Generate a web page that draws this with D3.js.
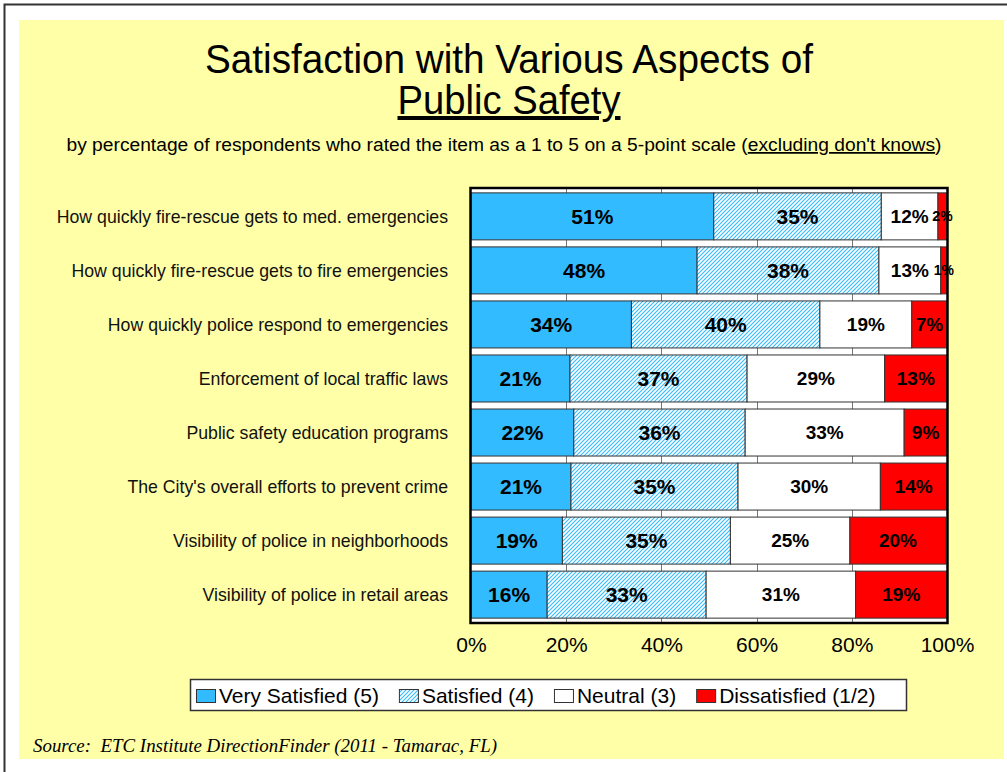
<!DOCTYPE html>
<html>
<head>
<meta charset="utf-8">
<script src="https://cdn.jsdelivr.net/npm/d3@7"></script>
<style>
body { margin: 0; background: #fff; }
text { font-family: "Liberation Sans", Arial, sans-serif; }
</style>
</head>
<body>
<script>
var categories = [
	"How quickly fire-rescue gets to med. emergencies",
	"How quickly fire-rescue gets to fire emergencies",
	"How quickly police respond to emergencies",
	"Enforcement of local traffic laws",
	"Public safety education programs",
	"The City's overall efforts to prevent crime",
	"Visibility of police in neighborhoods",
	"Visibility of police in retail areas"
];
var verySatisfied = [51.0, 47.5, 33.7, 20.8, 21.6, 21.0, 19.2, 16.0];
var satisfied     = [35.2, 38.2, 39.6, 37.2, 36.0, 35.1, 35.3, 33.4];
var neutral       = [11.9, 13.0, 19.3, 28.9, 33.4, 29.9, 25.1, 31.4];
var dissatisfied  = [1.9, 1.3, 7.4, 13.1, 9.0, 14.0, 20.2, 19.2];
var seriesNames = ["Very Satisfied (5)", "Satisfied (4)", "Neutral (3)", "Dissatisfied (1/2)"];
var xTicks = [0, 20, 40, 60, 80, 100];

var width = 1007, height = 772;
var keys = ["vs", "s", "n", "d"];
var fills = ["#33BBFF", "url(#hatch)", "#FFFFFF", "#FF0000"];
var labelSize = [21, 21, 19, 19];

var table = categories.map(function(c, i){
	return {cat: c, vs: verySatisfied[i], s: satisfied[i], n: neutral[i], d: dissatisfied[i]};
});

var svg = d3.select("body").append("svg")
	.attr("width", width)
	.attr("height", height);

var defs = svg.append("defs");
var hatch = defs.append("pattern")
	.attr("id", "hatch")
	.attr("patternUnits", "userSpaceOnUse")
	.attr("width", 4).attr("height", 4);
hatch.append("rect").attr("width", 4).attr("height", 4).attr("fill", "#fff");
hatch.append("path")
	.attr("d", "M0,4 L4,0 M-1,1 L1,-1 M3,5 L5,3")
	.attr("stroke", "#33BBFF")
	.attr("stroke-width", 1.1);

// page frame + yellow panel
svg.append("path")
	.attr("d", "M4.5,772 L4.5,4.5 L1007,4.5")
	.attr("fill", "none")
	.attr("stroke", "#333")
	.attr("stroke-width", 2);
svg.append("rect")
	.attr("x", 19).attr("y", 20)
	.attr("width", 985).attr("height", 739)
	.attr("fill", "#FFFFA8");

// titles
svg.append("text")
	.attr("x", 509).attr("y", 73)
	.attr("text-anchor", "middle")
	.attr("font-size", 40)
	.attr("textLength", 608)
	.attr("lengthAdjust", "spacingAndGlyphs")
	.text("Satisfaction with Various Aspects of");
svg.append("text")
	.attr("x", 509).attr("y", 114)
	.attr("text-anchor", "middle")
	.attr("font-size", 40)
	.attr("textLength", 223)
	.attr("lengthAdjust", "spacingAndGlyphs")
	.style("text-decoration", "underline")
	.text("Public Safety");
var sub = svg.append("text")
	.attr("x", 504).attr("y", 151)
	.attr("text-anchor", "middle")
	.attr("font-size", 17.5)
	.attr("textLength", 875)
	.attr("lengthAdjust", "spacingAndGlyphs");
sub.append("tspan").text("by percentage of respondents who rated the item as a 1 to 5 on a 5-point scale (");
sub.append("tspan").style("text-decoration", "underline").text("excluding don't knows");
sub.append("tspan").text(")");

// scales
var x = d3.scaleLinear()
	.domain([0, 100])
	.range([471, 947]);
var y = d3.scaleBand()
	.domain(categories)
	.range([188, 623])
	.paddingInner(0.13)
	.paddingOuter(0.09);

var stack = d3.stack().keys(keys);
var layers = stack(table);

// plot background + grid
svg.append("rect")
	.attr("x", x(0)).attr("y", 188)
	.attr("width", x(100) - x(0)).attr("height", 435)
	.attr("fill", "#fff");
svg.append("g")
	.selectAll("line")
	.data(xTicks.slice(1, -1))
	.enter().append("line")
		.attr("x1", function(d){ return Math.round(x(d)) + 0.5; })
		.attr("x2", function(d){ return Math.round(x(d)) + 0.5; })
		.attr("y1", 188).attr("y2", 623)
		.attr("stroke", "#777")
		.attr("stroke-width", 1);

// bars
var groups = svg.append("g")
	.selectAll("g")
	.data(layers)
	.enter().append("g")
		.attr("fill", function(d, i){ return fills[i]; });

groups.selectAll("rect")
	.data(function(d){ return d; })
	.enter().append("rect")
		.attr("x", function(d){ return x(d[0]); })
		.attr("y", function(d){ return y(d.data.cat); })
		.attr("width", function(d){ return x(d[1]) - x(d[0]); })
		.attr("height", y.bandwidth())
		.attr("stroke", "#333")
		.attr("stroke-width", 1);

// value labels
layers.forEach(function(layer, li){
	svg.append("g")
		.selectAll("text")
		.data(layer)
		.enter().append("text")
			.attr("x", function(d){ return (x(d[0]) + x(d[1])) / 2; })
			.attr("y", function(d){ return y(d.data.cat) + y.bandwidth() / 2; })
			.attr("dy", "0.36em")
			.attr("text-anchor", "middle")
			.attr("font-weight", "bold")
			.attr("font-size", function(d){ return (d[1] - d[0]) < 3 ? 14 : labelSize[li]; })
			.text(function(d){ return Math.round(d[1] - d[0]) + "%"; });
});

// frame
svg.append("rect")
	.attr("x", x(0) - 0.5).attr("y", 188)
	.attr("width", x(100) - x(0) + 1).attr("height", 435)
	.attr("fill", "none")
	.attr("stroke", "#000")
	.attr("stroke-width", 2.5);

// category labels
svg.append("g")
	.selectAll("text")
	.data(categories)
	.enter().append("text")
		.attr("x", 448)
		.attr("y", function(d){ return y(d) + y.bandwidth() / 2; })
		.attr("dy", "0.35em")
		.attr("text-anchor", "end")
		.attr("font-size", 17.7)
		.attr("fill", "#111")
		.text(function(d){ return d; });

// x axis labels
var xAxis = d3.axisBottom(x)
	.tickValues(xTicks)
	.tickSize(0)
	.tickPadding(14)
	.tickFormat(function(d){ return d + "%"; });
var ax = svg.append("g")
	.attr("transform", "translate(0,623)")
	.call(xAxis);
ax.select(".domain").remove();
ax.selectAll("text")
	.attr("font-size", 21)
	.attr("font-family", "Liberation Sans, Arial, sans-serif")
	.attr("fill", "#000");

// legend
var legend = svg.append("g");
legend.append("rect")
	.attr("x", 190.5).attr("y", 679.5)
	.attr("width", 716).attr("height", 31)
	.attr("fill", "#fff")
	.attr("stroke", "#333")
	.attr("stroke-width", 1.5);
var lx = 196;
seriesNames.forEach(function(name, i){
	legend.append("rect")
		.attr("x", lx + 0.5).attr("y", 689.5)
		.attr("width", 19).attr("height", 13)
		.attr("fill", fills[i])
		.attr("stroke", "#333")
		.attr("stroke-width", 1);
	var t = legend.append("text")
		.attr("x", lx + 23).attr("y", 703)
		.attr("font-size", 21)
		.text(name);
	lx = lx + 23 + t.node().getComputedTextLength() + 20;
});

// source
svg.append("text")
	.attr("x", 33).attr("y", 752)
	.attr("font-style", "italic")
	.attr("font-size", 18)
	.attr("textLength", 464)
	.attr("lengthAdjust", "spacingAndGlyphs")
	.style("font-family", "'Liberation Serif', 'Times New Roman', serif")
	.style("white-space", "pre")
	.text("Source:  ETC Institute DirectionFinder (2011 - Tamarac, FL)");
</script>
</body>
</html>
